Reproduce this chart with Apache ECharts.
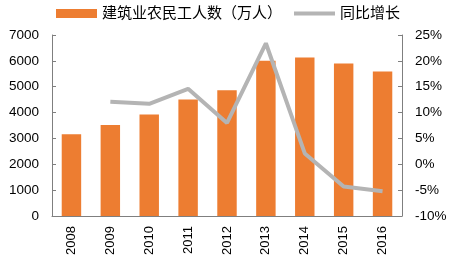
<!DOCTYPE html>
<html><head><meta charset="utf-8">
<script src="https://cdn.jsdelivr.net/npm/echarts@6/dist/echarts.min.js"></script>
<style>html,body{margin:0;padding:0;background:#fff}#c{width:470px;height:271px}</style>
</head><body><div id="c"></div>
<script>
const years = ['2008','2009','2010','2011','2012','2013','2014','2015','2016'];
const workers = [3160, 3520, 3930, 4510, 4860, 6000, 6130, 5900, 5590];
const growth = [null, 12.1, 11.7, 14.6, 8.0, 23.4, 2.1, -4.3, -5.2];
const barName = '建筑业农民工人数（万人）';
const lineName = '同比增长';
const font = 'Arial, "Liberation Sans", "Noto Sans CJK SC", sans-serif';
const axisColor = '#7f7f7f';
const chart = echarts.init(document.getElementById('c'), null, {renderer:'canvas'});
chart.setOption({
  animation:false,
  textStyle:{fontFamily:font},
  legend:{
    top:1, left:51, itemWidth:41, itemHeight:9, itemGap:10,
    textStyle:{fontSize:15, color:'#000', fontFamily:font},
    data:[{name:barName, icon:'rect'},
          {name:lineName, itemStyle:{opacity:0}, lineStyle:{width:4, color:'#B4B4B4'}}]
  },
  grid:{left:52, right:68, top:35, bottom:55},
  xAxis:{
    type:'category', data:years,
    axisLine:{lineStyle:{color:axisColor}},
    axisTick:{inside:true, length:4, lineStyle:{color:axisColor}},
    axisLabel:{rotate:90, color:'#000', fontSize:13, margin:10, fontFamily:font}
  },
  yAxis:[
    {type:'value', min:0, max:7000, interval:1000,
     axisLine:{show:true, lineStyle:{color:axisColor}},
     axisTick:{show:true, inside:true, length:4, lineStyle:{color:axisColor}},
     splitLine:{show:false},
     axisLabel:{color:'#000', fontSize:13.5, margin:13, fontFamily:font, formatter:function(v){return String(v);}}},
    {type:'value', min:-10, max:25, interval:5,
     axisLine:{show:true, lineStyle:{color:axisColor}},
     axisTick:{show:true, inside:true, length:4, lineStyle:{color:axisColor}},
     splitLine:{show:false},
     axisLabel:{color:'#000', fontSize:13.5, margin:13, formatter:'{value}%', fontFamily:font}}
  ],
  series:[
    {name:barName, type:'bar', data:workers, barWidth:'50%', itemStyle:{color:'#ED7D31'}},
    {name:lineName, type:'line', yAxisIndex:1, data:growth, symbol:'none', connectNulls:false,
     lineStyle:{color:'#B4B4B4', width:4}, itemStyle:{color:'#B4B4B4'}}
  ]
});
</script></body></html>
